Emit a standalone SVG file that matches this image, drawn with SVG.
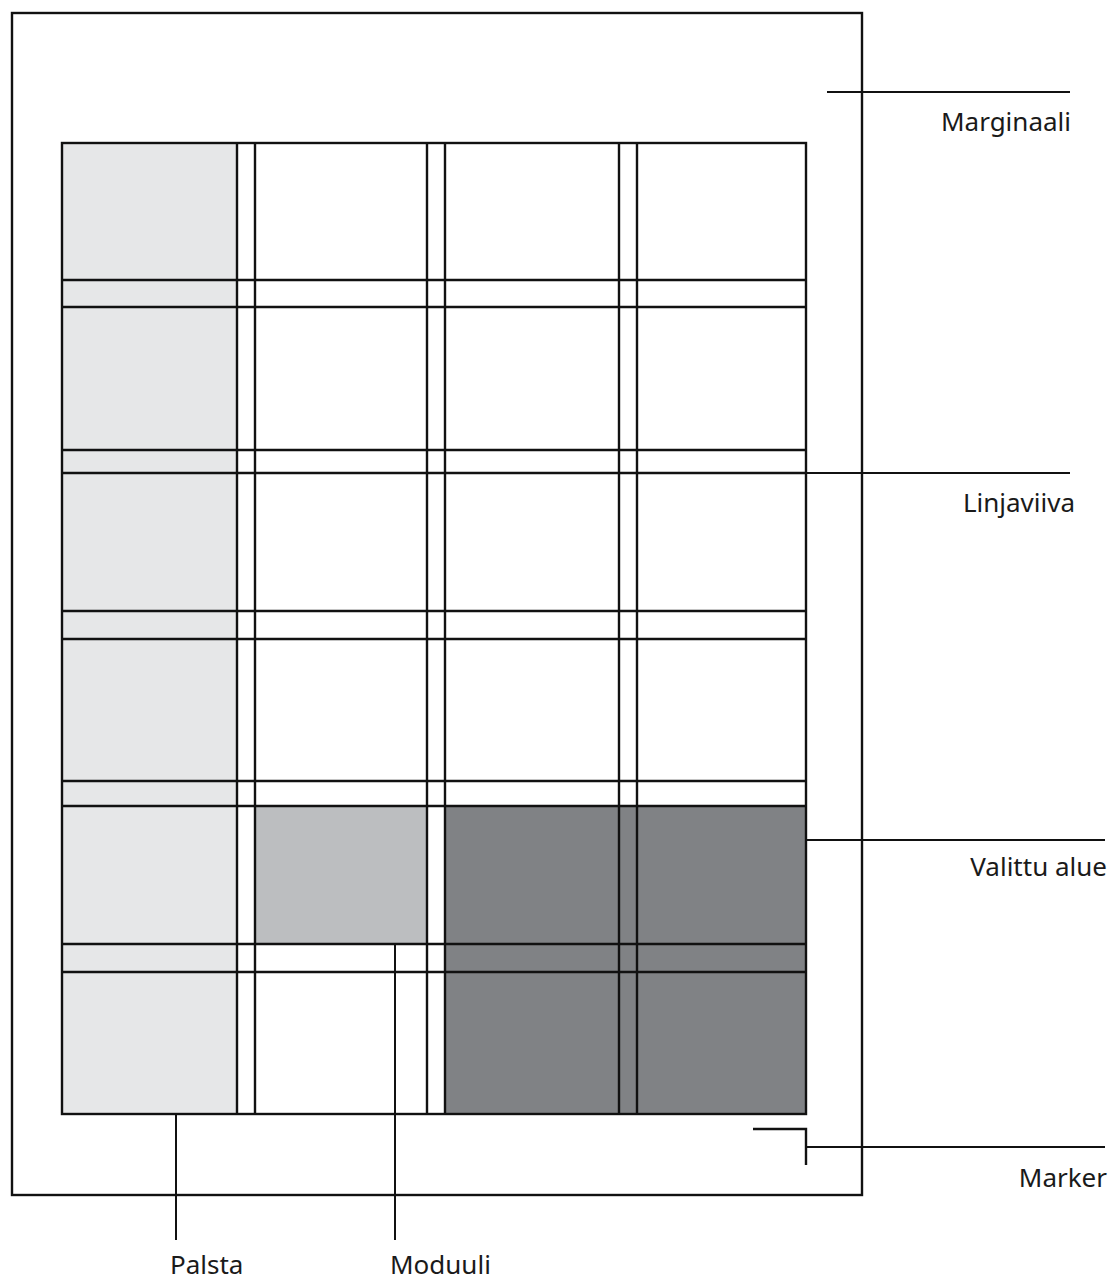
<svg xmlns="http://www.w3.org/2000/svg" width="1112" height="1281" viewBox="0 0 1112 1281">
<style>
.ln{stroke:#111;stroke-width:2.4;fill:none}
.ld{stroke:#111;stroke-width:2;fill:none}
.lbl{font-family:"Noto Sans","Open Sans",sans-serif;font-size:26px;fill:#1a1a1a}
</style>
<rect width="1112" height="1281" fill="#ffffff"/>
<g id="page">
<rect class="ln" x="12" y="13" width="850" height="1182"/>
</g>
<g id="palsta">
<rect x="62" y="143" width="175" height="971" fill="#e6e7e8"/>
</g>
<g id="moduuli">
<rect x="255" y="806" width="172" height="138" fill="#bcbec0"/>
</g>
<g id="valittu-alue">
<rect x="445" y="806" width="361" height="308" fill="#808285"/>
</g>
<g id="grid">
<rect class="ln" x="62" y="143" width="744" height="971"/>
<path class="ln" d="M237 143V1114M255 143V1114M427 143V1114M445 143V1114M619 143V1114M637 143V1114"/>
<path class="ln" d="M62 280H806M62 307H806M62 450H806M62 473H806M62 611H806M62 639H806M62 781H806M62 806H806M62 944H806M62 972H806"/>
</g>
<g id="marker">
<path class="ln" d="M753 1129H806V1165"/>
</g>
<g id="connectors">
<path class="ld" d="M827 92H1070"/>
<path class="ld" d="M806 473H1070"/>
<path class="ld" d="M806 840H1105"/>
<path class="ld" d="M806 1147H1105"/>
<path class="ld" d="M176 1114V1240"/>
<path class="ld" d="M395 944V1240"/>
</g>
<g id="labels">
<text class="lbl" x="1071" y="131" text-anchor="end">Marginaali</text>
<text class="lbl" x="1075" y="512" text-anchor="end">Linjaviiva</text>
<text class="lbl" x="1107" y="876" text-anchor="end">Valittu alue</text>
<text class="lbl" x="1107" y="1187" text-anchor="end">Marker</text>
<text class="lbl" x="170" y="1274">Palsta</text>
<text class="lbl" x="390" y="1274">Moduuli</text>
</g>
</svg>
